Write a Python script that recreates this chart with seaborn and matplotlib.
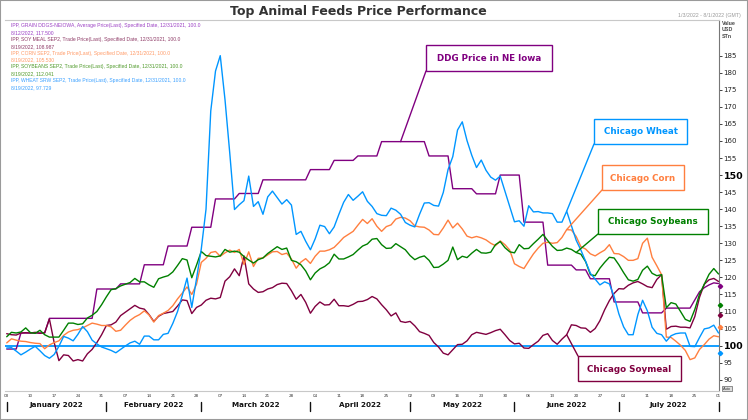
import numpy as np
import pandas as pd
import matplotlib
matplotlib.use("Agg")
import matplotlib.pyplot as plt
import matplotlib.transforms as mtransforms
from matplotlib.patches import Rectangle, ConnectionPatch
from matplotlib.lines import Line2D
import seaborn as sns

# ---------------- data ----------------
sessions = pd.bdate_range("2022-01-03", "2022-08-01")   # trading sessions shown on the x axis

series_names = ["DDG Price in NE Iowa", "Chicago Soymeal", "Chicago Corn",
                "Chicago Soybeans", "Chicago Wheat"]
series_colors = ["#800080", "#800040", "#FF7F3F", "#008000", "#0096FF"]
legend_colors = ["#9B3FC4", "#8E3A66", "#FF9A66", "#4F9A2A", "#3AA0FF"]

legend_descr = [
    "IPP, GRAIN DDGS-NEIOWA, Average Price(Last), Specified Date, 12/31/2021, 100.0",
    "IPP, SOY MEAL SEP2, Trade Price(Last), Specified Date, 12/31/2021, 100.0",
    "IPP, CORN SEP2, Trade Price(Last), Specified Date, 12/31/2021, 100.0",
    "IPP, SOYBEANS SEP2, Trade Price(Last), Specified Date, 12/31/2021, 100.0",
    "IPP, WHEAT SRW SEP2, Trade Price(Last), Specified Date, 12/31/2021, 100.0",
]
last_dates = ["8/12/2022", "8/19/2022", "8/19/2022", "8/19/2022", "8/19/2022"]
last_values = [117.500, 108.987, 105.530, 112.041, 97.729]

ddg = [
    99.0, 99.0, 99.0, 103.7, 103.7, 103.7, 103.7, 103.7, 103.7, 108.0,
    108.0, 108.0, 108.0, 108.0, 108.0, 108.0, 108.0, 108.0, 108.0, 116.6,
    116.6, 116.6, 116.6, 116.6, 118.1, 118.1, 118.1, 118.1, 118.1, 123.7,
    123.7, 123.7, 123.7, 123.7, 129.2, 129.2, 129.2, 129.2, 129.2, 134.7,
    134.7, 134.7, 134.7, 134.7, 143.0, 143.0, 143.0, 143.0, 143.0, 144.6,
    144.6, 144.6, 144.6, 144.6, 148.6, 148.6, 148.6, 148.6, 148.6, 148.6,
    148.6, 148.6, 148.6, 148.6, 151.6, 151.6, 151.6, 151.6, 151.6, 154.3,
    154.3, 154.3, 154.3, 154.3, 155.6, 155.6, 155.6, 155.6, 155.6, 159.8,
    159.8, 159.8, 159.8, 159.8, 159.8, 159.8, 159.8, 159.8, 159.8, 155.6,
    155.6, 155.6, 155.6, 155.6, 146.0, 146.0, 146.0, 146.0, 146.0, 144.5,
    144.5, 144.5, 144.5, 144.5, 150.0, 150.0, 150.0, 150.0, 150.0, 136.2,
    136.2, 136.2, 136.2, 136.2, 123.6, 123.6, 123.6, 123.6, 123.6, 123.6,
    122.2, 122.2, 122.2, 119.6, 119.6, 119.6, 119.6, 119.6, 112.8, 112.8,
    112.8, 112.8, 112.8, 112.8, 109.6, 109.6, 109.6, 109.6, 109.6, 111.0,
    111.0, 111.0, 111.0, 111.0, 111.0, 113.4, 115.8, 117.0, 117.8, 118.4,
    118.2]

soymeal = [
    103.5, 103.2, 103.1, 103.7, 103.8, 103.7, 103.9, 103.6, 103.8, 107.8,
    100.9, 95.6, 97.3, 97.1, 95.5, 95.9, 95.5, 97.6, 98.9, 100.9,
    103.2, 105.9, 106.1, 106.9, 108.8, 109.8, 110.8, 111.8, 111.0, 110.7,
    109.1, 107.1, 108.6, 109.4, 109.7, 110.0, 111.6, 113.4, 113.2, 109.4,
    111.2, 111.9, 113.3, 113.9, 113.7, 114.1, 118.9, 120.2, 122.5, 120.5,
    126.3, 118.1, 116.6, 115.6, 115.8, 116.6, 117.0, 117.9, 118.3, 118.2,
    116.1, 113.6, 115.0, 112.7, 109.5, 111.5, 112.8, 111.9, 112.0, 113.6,
    111.7, 111.7, 111.5, 112.1, 112.9, 113.0, 113.5, 114.4, 113.7, 112.0,
    110.5, 108.7, 109.6, 107.1, 106.8, 107.1, 105.8, 104.1, 103.6, 103.0,
    100.9, 99.6, 97.8, 97.3, 98.8, 100.3, 100.4, 101.4, 103.2, 103.9,
    103.6, 103.3, 103.8, 104.4, 104.8, 103.2, 101.5, 100.5, 100.7, 99.3,
    99.2, 100.3, 101.3, 103.0, 103.5, 101.5, 100.4, 101.9, 103.2, 106.1,
    105.9, 105.2, 105.1, 103.9, 105.0, 107.3, 110.5, 113.2, 115.3, 116.7,
    116.6, 117.7, 118.4, 118.8, 118.1, 117.3, 117.0, 119.4, 120.8, 104.8,
    105.6, 105.7, 105.4, 105.4, 105.2, 108.5, 114.2, 118.0, 119.3, 119.7,
    118.8]

corn = [
    100.8, 102.0, 101.6, 101.3, 101.2, 100.9, 100.7, 100.6, 99.1, 100.2,
    100.9, 101.4, 103.0, 104.0, 104.5, 104.7, 105.2, 105.9, 106.6, 106.3,
    105.9, 105.9, 105.5, 104.2, 104.5, 106.0, 107.4, 108.4, 109.1, 110.2,
    109.0, 106.9, 108.8, 109.5, 110.3, 111.7, 113.7, 115.4, 117.2, 115.0,
    118.0, 124.4, 125.6, 127.3, 127.6, 126.2, 127.2, 128.0, 127.3, 128.2,
    123.8, 127.5, 123.2, 125.6, 125.7, 126.6, 127.5, 127.6, 126.7, 127.1,
    125.4, 122.7, 124.5, 125.5, 124.1, 126.2, 127.7, 127.7, 128.1, 128.8,
    130.2, 131.7, 132.6, 133.5, 135.3, 137.0, 135.8, 137.2, 135.0, 133.5,
    134.9, 135.4, 137.1, 137.6, 137.4, 136.6, 135.1, 134.8, 134.7, 133.9,
    132.6, 132.5, 134.5, 136.8, 134.5, 135.9, 134.2, 132.1, 131.6, 132.0,
    131.6, 131.0, 130.0, 129.3, 130.7, 129.6, 128.0, 124.0, 123.2, 122.6,
    124.8, 126.9, 128.6, 130.0, 130.3, 130.0, 130.2, 131.7, 134.0, 133.9,
    132.0, 129.0, 128.3, 126.9, 126.3, 127.2, 128.0, 129.6, 127.0, 126.9,
    126.1, 125.0, 125.0, 125.5, 130.0, 131.5, 125.9, 123.4, 120.8, 102.5,
    102.4, 101.3, 100.1, 98.6, 95.9, 96.4, 98.9, 100.3, 101.9, 102.9,
    102.6]

soybeans = [
    102.6, 103.9, 103.7, 104.0, 105.2, 103.8, 103.6, 104.5, 103.2, 102.5,
    102.5, 102.5, 104.5, 106.6, 106.6, 106.2, 106.4, 108.1, 108.9, 110.0,
    112.0, 114.3, 116.4, 116.7, 117.5, 118.0, 118.5, 119.7, 118.7, 118.7,
    117.8, 117.1, 119.6, 120.1, 120.5, 121.6, 123.5, 125.5, 125.1, 119.9,
    123.6, 127.6, 126.4, 126.2, 126.0, 126.3, 128.2, 127.4, 127.7, 127.4,
    126.1, 125.1, 124.2, 125.2, 125.7, 127.0, 128.0, 129.0, 128.2, 128.6,
    125.0, 124.6, 123.7, 121.9, 119.3, 121.3, 122.5, 123.2, 124.3, 126.8,
    125.4, 125.4, 126.0, 126.7, 128.0, 129.2, 129.8, 131.2, 131.4, 129.6,
    128.5, 128.6, 129.9, 129.0, 128.1, 126.4, 125.2, 125.9, 126.3, 125.0,
    122.9, 123.0, 123.9, 125.0, 128.9, 125.2, 126.2, 125.8, 127.1, 128.2,
    127.2, 127.1, 127.4, 129.6, 130.5, 128.7, 127.5, 127.2, 129.6, 128.4,
    128.5, 129.9, 131.2, 132.6, 130.8, 129.1, 127.9, 128.0, 128.6, 128.2,
    127.3, 126.8, 124.6, 120.8, 120.5, 122.7, 124.4, 125.9, 125.7, 123.7,
    121.4, 119.3, 118.9, 119.4, 122.1, 123.3, 121.2, 120.5, 120.8, 111.1,
    112.6, 112.2, 110.0, 107.7, 107.1, 110.6, 115.1, 118.0, 120.9, 122.6,
    121.0]

wheat = [
    99.3, 99.4, 98.4, 97.3, 98.1, 99.0, 99.8, 98.5, 97.1, 96.3,
    97.4, 99.8, 102.7, 102.2, 101.4, 103.3, 105.6, 104.1, 101.6, 100.5,
    99.6, 99.1, 98.6, 97.9, 98.9, 99.9, 100.8, 101.3, 100.4, 102.8,
    102.8, 101.7, 101.7, 103.3, 103.6, 106.5, 110.0, 114.7, 119.8, 111.2,
    119.6, 128.3, 140.0, 168.8, 180.5, 185.0, 172.1, 156.5, 139.9, 141.3,
    142.5, 149.7, 140.8, 142.2, 138.5, 143.6, 145.3, 143.4, 141.5, 142.8,
    141.2, 132.6, 133.5, 130.6, 128.1, 131.3, 135.3, 134.9, 132.8, 134.8,
    138.5, 142.0, 144.3, 142.6, 143.8, 145.1, 142.3, 140.8, 138.7, 138.2,
    138.1, 140.3, 139.7, 138.5, 136.1, 135.3, 134.8, 138.5, 141.8, 141.9,
    141.1, 140.9, 144.9, 151.6, 155.4, 163.2, 165.6, 160.1, 155.8, 152.2,
    154.4, 151.4, 149.4, 148.5, 149.7, 145.2, 140.8, 136.3, 136.6, 135.0,
    141.0, 139.2, 139.3, 138.9, 138.9, 138.7, 136.2, 136.2, 139.4, 135.2,
    130.9, 128.0, 124.7, 121.2, 119.5, 117.8, 118.7, 118.1, 114.4, 109.3,
    105.5, 103.2, 103.2, 109.1, 113.3, 110.2, 105.4, 103.6, 103.2, 101.3,
    102.9, 103.5, 103.7, 103.7, 99.8, 99.7, 102.4, 104.9, 105.2, 106.0,
    103.7]

series_values = [ddg, soymeal, corn, soybeans, wheat]
for vals in series_values:
    assert len(vals) == len(sessions), len(vals)

# session index where each callout's leader line lands on its series
callout_session = [83, 118, 118, 120, 118]

title = "Top Animal Feeds Price Performance"
date_range_text = "1/3/2022 - 8/1/2022 (GMT)"
y_ticks = list(range(90, 186, 5))

# ---------------- figure ----------------
sns.set_style("white")
plt.rcParams["font.family"] = ["DejaVu Sans"]

W, H = 748, 420
fig = plt.figure(figsize=(W / 100, H / 100), dpi=100)
fig.patch.set_facecolor("white")


def P(x, y):
    return (x / W, 1 - y / H)


ax_left, ax_right, ax_top, ax_bot = 5, 719, 19.5, 391
ax = fig.add_axes([ax_left / W, 1 - ax_bot / H, (ax_right - ax_left) / W, (ax_bot - ax_top) / H])
ax.set_facecolor("white")

frames = []
for name, vals in zip(series_names, series_values):
    frames.append(pd.DataFrame({"session": np.arange(len(sessions)), "date": sessions,
                                "value": vals, "series": name}))
df = pd.concat(frames, ignore_index=True)

ax.axhline(100, color=series_colors[4], lw=1.3, zorder=1)
sns.lineplot(data=df, x="session", y="value", hue="series", hue_order=series_names,
             palette=dict(zip(series_names, series_colors)), estimator=None,
             linewidth=1.0, legend=False, ax=ax, zorder=3)

ax.set_xlim(-0.36, 150.1)
ax.set_ylim(86.7, 195.6)
ax.set_xlabel("")
ax.set_ylabel("")

# spines
ax.spines["left"].set_visible(False)
ax.spines["top"].set_color("#C8C8C8")
ax.spines["bottom"].set_color("#C8C8C8")
ax.spines["right"].set_color("#777777")
for s in ["top", "bottom", "right"]:
    ax.spines[s].set_linewidth(0.8)

# right value axis
ax.yaxis.tick_right()
ax.set_yticks(y_ticks)
ax.set_yticklabels([str(t) for t in y_ticks])
ax.tick_params(axis="y", length=2.5, width=0.6, pad=0.8, labelsize=5, colors="#222222",
               direction="out")
for lab, t in zip(ax.get_yticklabels(), y_ticks):
    if t in (100, 150):
        lab.set_fontweight("bold")
        lab.set_fontsize(6.8)
        lab.set_color("#000000")

# bottom date axis (trading sessions, weekly ticks)
week_idx = list(range(0, len(sessions), 5))
ax.set_xticks(week_idx)
ax.set_xticklabels([sessions[i].strftime("%d") for i in week_idx])
ax.tick_params(axis="x", length=1.5, width=0.5, pad=1.0, labelsize=3, colors="#333333")

blend = mtransforms.blended_transform_factory(ax.transData, ax.transAxes)
months = sessions.to_period("M")
month_starts = [i for i in range(len(sessions)) if i == 0 or months[i] != months[i - 1]]
bounds = month_starts[:-1] + [len(sessions) - 1]
for k in range(len(bounds) - 1):
    a, b = bounds[k], bounds[k + 1]
    ax.text((a + b) / 2, -0.037, sessions[a].strftime("%B %Y"), transform=blend,
            ha="center", va="center", fontsize=5.2, fontweight="bold", color="#111111",
            clip_on=False)
for b in bounds:
    ax.add_line(Line2D([b, b], [-0.029, -0.055], transform=blend, color="#111111",
                       lw=1.0, clip_on=False))

# last value markers on the value axis
for v, c in zip(last_values, series_colors):
    ax.plot([150.3], [v], marker="D", ms=2.2, color=c, clip_on=False, zorder=5, ls="none")

# ---------------- texts ----------------
fig.text(*P(358, 12), title, ha="center", va="center", fontsize=9, fontweight="bold",
         color="#333333")
fig.text(*P(741, 15), date_range_text, ha="right", va="center", fontsize=3.8,
         color="#9A9A9A", family="Liberation Sans")
fig.text(*P(722, 21), "Value\nUSD\nSTn", ha="left", va="top", fontsize=3.8,
         fontweight="bold", color="#444444", family="Liberation Sans", linespacing=1.35)
fig.text(*P(727, 388.5), "Auto", ha="center", va="center", fontsize=2.8, color="#333333",
         family="Liberation Sans",
         bbox=dict(boxstyle="square,pad=0.25", fc="#DDDDDD", ec="#666666", lw=0.5))

for i, (d, ld, lv, c) in enumerate(zip(legend_descr, last_dates, last_values, legend_colors)):
    y0 = 26 + i * 13.6
    fig.text(*P(11, y0), d, ha="left", va="center", fontsize=3.6, color=c,
             family="Liberation Sans")
    fig.text(*P(11, y0 + 6.9), f"{ld}, {lv:.3f}", ha="left", va="center", fontsize=3.6,
             color=c, family="Liberation Sans")

# ---------------- callout boxes ----------------
boxes = [  # (x0, y0, x1, y1, leader corner) in pixel layout
    (426, 45, 552, 71, "bl"),
    (578, 356, 681, 381, "tl"),
    (602, 165, 684, 190, "bl"),
    (598, 209, 708, 234, "bl"),
    (594, 119, 687, 144, "bl"),
]
for k, (x0, y0, x1, y1, corner) in enumerate(boxes):
    c = series_colors[k]
    rx, ry = P(x0, y1)
    fig.add_artist(Rectangle((rx, ry), (x1 - x0) / W, (y1 - y0) / H, transform=fig.transFigure,
                             fc="white", ec=c, lw=1.0, zorder=6))
    fig.text(*P((x0 + x1) / 2, (y0 + y1) / 2 + 0.5), series_names[k], ha="center",
             va="center", fontsize=6.3, fontweight="bold", color=c, zorder=7)
    sx = x0
    sy = y1 if corner == "bl" else y0
    si = callout_session[k]
    con = ConnectionPatch(xyA=P(sx, sy), coordsA=fig.transFigure,
                          xyB=(si, series_values[k][si]), coordsB=ax.transData,
                          color=c, lw=1.0, zorder=5)
    fig.add_artist(con)

# outer frame
fig.add_artist(Rectangle((0, 0), 1, 1, transform=fig.transFigure, fill=False,
                         ec="#9A9A9A", lw=1.5, zorder=10))

fig.savefig("out.png", dpi=100, facecolor="white")
